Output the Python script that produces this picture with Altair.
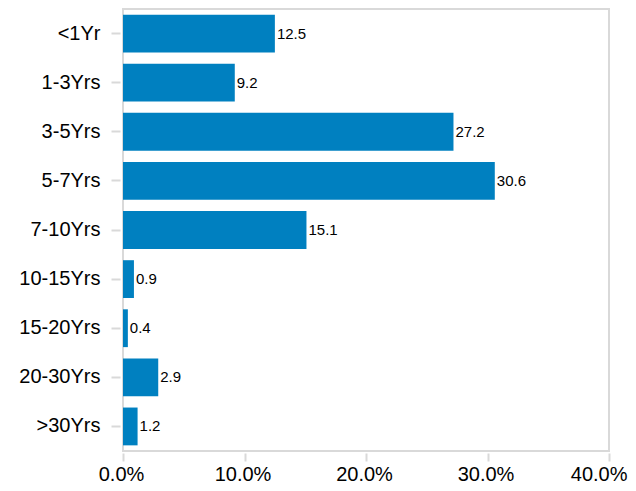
import altair as alt
import pandas as pd

categories = ["<1Yr", "1-3Yrs", "3-5Yrs", "5-7Yrs", "7-10Yrs", "10-15Yrs", "15-20Yrs", "20-30Yrs", ">30Yrs"]
values = [12.5, 9.2, 27.2, 30.6, 15.1, 0.9, 0.4, 2.9, 1.2]
x_ticks = [0, 10, 20, 30, 40]

df = pd.DataFrame({"cat": categories, "val": values})

FONT = "Liberation Sans"

y_enc = alt.Y(
    "cat:N",
    sort=categories,
    scale=alt.Scale(paddingInner=0.23, paddingOuter=0.115),
    axis=alt.Axis(
        title=None,
        domain=False,
        ticks=True,
        tickColor="#d9d9d9",
        tickWidth=2,
        tickSize=9,
        offset=3,
        labelPadding=11,
        labelFontSize=20,
        labelFont=FONT,
        labelColor="#000000",
        grid=False,
    ),
)

x_enc = alt.X(
    "val:Q",
    scale=alt.Scale(domain=[0, 40], nice=False),
    axis=alt.Axis(
        title=None,
        values=x_ticks,
        labelExpr="format(datum.value/100, '.1%')",
        domain=False,
        grid=False,
        ticks=True,
        tickColor="#d9d9d9",
        tickWidth=2,
        tickSize=8,
        offset=2,
        labelPadding=3,
        labelAlign={"condition": {"test": "datum.value == 40", "value": "right"}, "value": "center"},
        labelOffset={"condition": {"test": "datum.value == 40", "value": 18}, "value": -2},
        labelFontSize=20,
        labelFont=FONT,
        labelColor="#000000",
        labelFlush=False,
    ),
)

bars = alt.Chart(df).mark_bar(color="#0080C0").encode(x=x_enc, y=y_enc)

labels = alt.Chart(df).mark_text(
    align="left", baseline="middle", dx=2, fontSize=15, font=FONT, color="#000000"
).encode(
    x=alt.X("val:Q"),
    y=alt.Y("cat:N", sort=categories),
    text=alt.Text("val:Q", format=".1f"),
)

chart = (
    alt.layer(bars, labels)
    .properties(
        width=486,
        height=442,
        padding={"left": 115, "top": 1, "right": 19, "bottom": 32},
        autosize=alt.AutoSizeParams(type="none"),
        background="#ffffff",
    )
    .configure_view(stroke="#d9d9d9", strokeWidth=2)
)

chart.save("out.html", embed_options={"renderer": "svg", "actions": False})
